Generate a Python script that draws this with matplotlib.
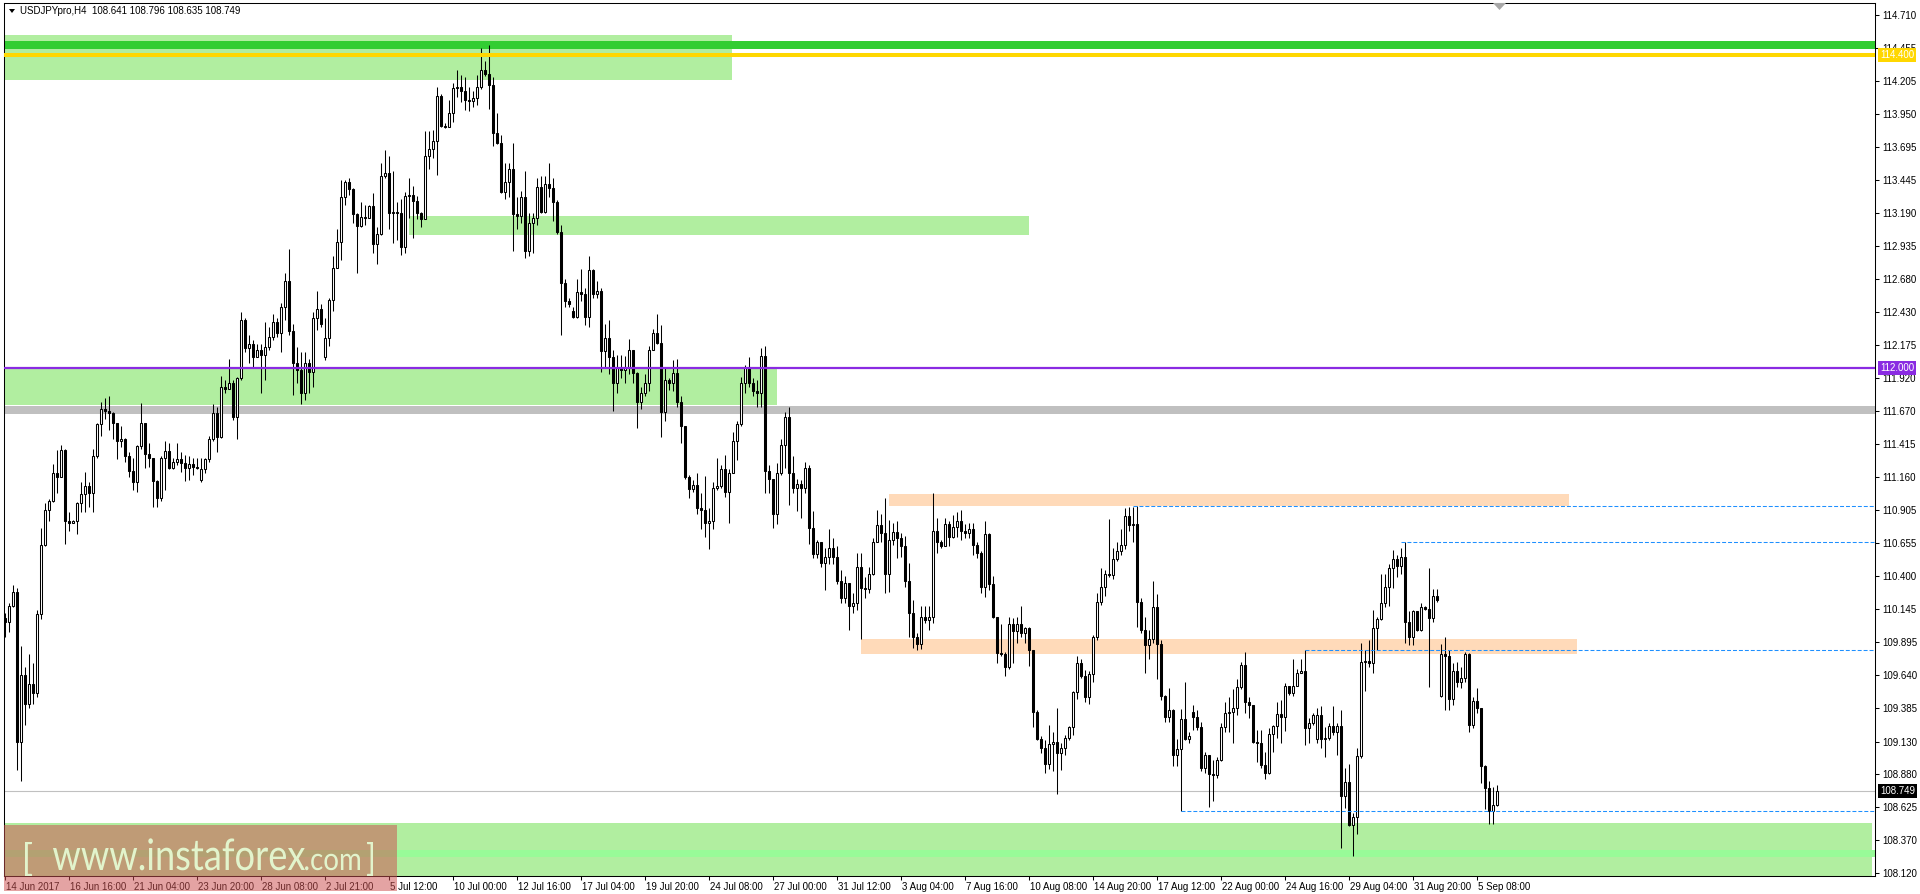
import numpy as np
import matplotlib
matplotlib.use("Agg")
import matplotlib.pyplot as plt
import matplotlib.transforms as mtransforms
from matplotlib.patches import Rectangle, Polygon, PathPatch
from matplotlib.textpath import TextPath
from matplotlib.font_manager import FontProperties
from matplotlib.transforms import Affine2D

plt.rcParams['font.family'] = ['Liberation Sans', 'DejaVu Sans']

# ---- H4 candles, open = previous close except gaps ----
first_open = 110.08
close = [
    110.05, 110.17, 110.28, 109.13, 109.64, 109.42, 109.57, 109.50, 110.11, 110.64,
    110.91, 110.98, 111.19, 111.16, 111.37, 110.82, 110.81, 110.82, 110.96, 111.03,
    111.09, 111.04, 111.32, 111.57, 111.68, 111.67, 111.65, 111.58, 111.44, 111.45,
    111.32, 111.21, 111.12, 111.40, 111.58, 111.34, 111.31, 111.13, 111.00, 111.31,
    111.36, 111.23, 111.28, 111.30, 111.27, 111.23, 111.26, 111.24, 111.23, 111.22,
    111.30, 111.45, 111.65, 111.47, 111.85, 111.84, 111.88, 111.62, 111.92, 112.37,
    112.15, 112.18, 112.08, 112.14, 112.10, 112.16, 112.24, 112.35, 112.27, 112.47,
    112.67, 112.28, 112.04, 111.98, 111.81, 112.04, 111.97, 112.38, 112.45, 112.34,
    112.23, 112.52, 112.77, 112.97, 113.31, 113.43, 113.37, 113.18, 113.09, 113.16,
    113.15, 113.24, 112.95, 113.03, 113.47, 113.50, 113.19, 113.20, 113.19, 112.93,
    113.32, 113.33, 113.28, 113.19, 113.14, 113.63, 113.68, 113.74, 114.09, 113.86,
    113.85, 113.96, 114.15, 114.16, 114.13, 114.06, 114.05, 114.07, 114.16, 114.29,
    114.26, 114.17, 113.80, 113.73, 113.35, 113.43, 113.53, 113.18, 113.17, 113.31,
    112.90, 113.11, 113.15, 113.39, 113.20, 113.41, 113.38, 113.27, 113.04, 112.65,
    112.51, 112.49, 112.39, 112.58, 112.57, 112.39, 112.75, 112.57, 112.59, 112.13,
    112.23, 112.08, 111.88, 112.00, 111.98, 112.01, 112.14, 111.96, 111.74, 111.81,
    111.88, 112.14, 112.27, 112.19, 111.66, 111.91, 111.88, 111.96, 111.74, 111.55,
    111.16, 111.07, 111.10, 110.92, 110.91, 110.81, 110.82, 111.08, 111.09, 111.22,
    111.05, 111.19, 111.44, 111.57, 111.88, 112.01, 111.88, 111.82, 111.81, 112.09,
    111.21, 111.15, 110.88, 111.19, 111.41, 111.62, 111.19, 111.08, 111.11, 111.08,
    111.23, 110.77, 110.57, 110.66, 110.50, 110.55, 110.62, 110.55, 110.36, 110.23,
    110.35, 110.17, 110.19, 110.47, 110.31, 110.30, 110.42, 110.66, 110.79, 110.73,
    110.42, 110.68, 110.74, 110.69, 110.63, 110.36, 110.12, 109.93, 109.88, 110.09,
    110.06, 110.09, 110.75, 110.66, 110.63, 110.80, 110.70, 110.78, 110.82, 110.75,
    110.73, 110.76, 110.64, 110.58, 110.32, 110.72, 110.34, 110.09, 109.81, 109.80,
    109.70, 110.03, 109.98, 110.03, 109.96, 110.00, 109.83, 109.36, 109.15, 109.08,
    108.96, 109.11, 109.13, 109.04, 109.08, 109.16, 109.24, 109.51, 109.73, 109.63,
    109.47, 109.65, 109.93, 110.20, 110.32, 110.42, 110.41, 110.53, 110.59, 110.64,
    110.86, 110.79, 110.80, 110.20, 109.99, 109.87, 109.92, 110.16, 109.88, 109.48,
    109.32, 109.37, 109.03, 109.07, 109.30, 109.15, 109.17, 109.32, 109.24, 108.93,
    109.03, 108.88, 108.87, 108.99, 109.24, 109.35, 109.36, 109.39, 109.55, 109.72,
    109.43, 109.41, 109.13, 109.12, 108.95, 108.89, 109.19, 109.25, 109.34, 109.32,
    109.56, 109.50, 109.56, 109.66, 109.67, 109.23, 109.27, 109.33, 109.33, 109.15,
    109.16, 109.25, 109.20, 109.25, 108.71, 108.82, 108.49, 108.55, 109.02, 109.74,
    109.75, 109.73, 110.00, 110.07, 110.19, 110.32, 110.46, 110.53, 110.48, 110.55,
    110.05, 109.93, 110.13, 109.99, 110.16, 110.15, 110.08, 110.25, 110.22, 109.80,
    109.79, 109.46, 109.67, 109.59, 109.62, 109.80, 109.26, 109.44, 109.39, 108.94,
    108.77, 108.60, 108.641, 108.749,
]
high = [
    110.12, 110.19, 110.33, 110.31, 109.86, 109.70, 109.80, 109.73, 110.14, 110.77,
    110.96, 110.99, 111.26, 111.37, 111.41, 111.38, 110.89, 110.83, 110.97, 111.12,
    111.20, 111.12, 111.38, 111.58, 111.74, 111.77, 111.78, 111.66, 111.58, 111.55,
    111.46, 111.35, 111.31, 111.41, 111.73, 111.58, 111.42, 111.31, 111.14, 111.32,
    111.44, 111.42, 111.31, 111.42, 111.35, 111.33, 111.32, 111.31, 111.31, 111.31,
    111.31, 111.48, 111.72, 111.70, 111.94, 111.91, 112.07, 111.91, 111.93, 112.43,
    112.38, 112.25, 112.21, 112.18, 112.18, 112.35, 112.31, 112.41, 112.38, 112.50,
    112.73, 112.91, 112.34, 112.16, 112.12, 112.12, 112.07, 112.43, 112.59, 112.49,
    112.38, 112.54, 112.86, 113.07, 113.44, 113.44, 113.46, 113.38, 113.19, 113.27,
    113.25, 113.25, 113.34, 113.08, 113.57, 113.67, 113.63, 113.51, 113.27, 113.30,
    113.35, 113.46, 113.40, 113.32, 113.20, 113.82, 113.82, 113.83, 114.16, 114.10,
    113.88, 114.06, 114.19, 114.29, 114.25, 114.23, 114.16, 114.13, 114.25, 114.46,
    114.36, 114.48, 114.23, 113.96, 113.79, 113.57, 113.57, 113.73, 113.31, 113.36,
    113.51, 113.19, 113.19, 113.46, 113.47, 113.47, 113.57, 113.46, 113.29, 113.10,
    112.68, 112.54, 112.47, 112.68, 112.76, 112.61, 112.86, 112.76, 112.67, 112.61,
    112.34, 112.37, 112.14, 112.10, 112.10, 112.09, 112.22, 112.14, 111.97, 111.85,
    111.95, 112.17, 112.30, 112.41, 112.33, 112.01, 111.92, 112.06, 112.07, 111.78,
    111.55, 111.18, 111.14, 111.19, 111.04, 111.17, 110.92, 111.12, 111.31, 111.25,
    111.33, 111.22, 111.51, 111.59, 111.93, 112.02, 112.08, 111.92, 111.91, 112.15,
    112.17, 111.25, 111.15, 111.27, 111.45, 111.66, 111.70, 111.32, 111.15, 111.14,
    111.28, 111.25, 110.90, 110.68, 110.66, 110.62, 110.76, 110.69, 110.63, 110.45,
    110.40, 110.35, 110.27, 110.58, 110.58, 110.39, 110.47, 110.69, 110.91, 110.88,
    111.00, 110.83, 110.81, 110.82, 110.73, 110.71, 110.50, 110.22, 109.96, 110.17,
    110.17, 110.17, 111.04, 110.85, 110.68, 110.85, 110.82, 110.87, 110.89, 110.91,
    110.80, 110.81, 110.81, 110.66, 110.59, 110.82, 110.73, 110.40, 110.09, 110.03,
    109.82, 110.09, 110.08, 110.09, 110.17, 110.01, 110.01, 109.83, 109.37, 109.17,
    109.14, 109.26, 109.20, 109.39, 109.12, 109.18, 109.25, 109.52, 109.79, 109.76,
    109.68, 109.67, 109.95, 110.27, 110.46, 110.45, 110.84, 110.62, 110.66, 110.76,
    110.92, 110.93, 110.93, 110.94, 110.23, 110.09, 109.99, 110.36, 110.26, 109.91,
    109.49, 109.54, 109.38, 109.15, 109.38, 109.59, 109.20, 109.41, 109.37, 109.28,
    109.05, 109.03, 108.99, 109.01, 109.27, 109.43, 109.47, 109.53, 109.61, 109.74,
    109.82, 109.47, 109.41, 109.22, 109.22, 109.05, 109.23, 109.26, 109.43, 109.45,
    109.58, 109.56, 109.76, 109.69, 109.76, 109.83, 109.31, 109.35, 109.39, 109.40,
    109.24, 109.27, 109.40, 109.27, 109.37, 108.93, 108.96, 108.58, 109.08, 109.89,
    109.83, 109.91, 110.14, 110.09, 110.42, 110.42, 110.49, 110.60, 110.56, 110.62,
    110.66, 110.13, 110.14, 110.13, 110.19, 110.17, 110.46, 110.30, 110.30, 109.88,
    109.93, 109.83, 109.73, 109.74, 109.70, 109.82, 109.81, 109.47, 109.54, 109.37,
    108.95, 108.83, 108.78, 108.796,
]
low = [
    109.93, 109.97, 110.16, 108.91, 108.83, 109.26, 109.39, 109.42, 109.47, 110.07,
    110.63, 110.82, 110.97, 111.04, 111.16, 110.65, 110.75, 110.81, 110.72, 110.89,
    110.89, 110.93, 110.89, 111.31, 111.48, 111.61, 111.52, 111.45, 111.30, 111.39,
    111.28, 111.16, 111.06, 111.05, 111.38, 111.23, 111.24, 110.93, 110.93, 110.98,
    111.06, 111.22, 111.22, 111.25, 111.20, 111.13, 111.14, 111.18, 111.22, 111.12,
    111.19, 111.28, 111.44, 111.35, 111.46, 111.81, 111.84, 111.60, 111.45, 111.91,
    112.12, 112.04, 112.01, 112.08, 111.81, 111.91, 112.14, 112.21, 112.24, 112.12,
    112.37, 112.25, 111.79, 111.88, 111.72, 111.75, 111.81, 111.85, 112.29, 112.31,
    112.06, 112.17, 112.44, 112.77, 112.83, 113.25, 113.33, 113.11, 112.73, 113.08,
    113.10, 113.15, 112.88, 112.80, 113.02, 113.46, 113.07, 112.96, 112.98, 112.87,
    112.88, 113.15, 113.00, 113.14, 113.08, 113.14, 113.53, 113.61, 113.48, 113.85,
    113.84, 113.85, 113.89, 114.08, 114.04, 113.98, 113.97, 114.00, 114.02, 114.14,
    114.24, 113.99, 113.70, 113.72, 113.34, 113.30, 113.31, 112.90, 113.07, 113.11,
    112.84, 112.86, 112.88, 113.10, 113.19, 113.19, 113.31, 113.13, 113.03, 112.25,
    112.47, 112.47, 112.38, 112.38, 112.51, 112.33, 112.31, 112.54, 112.54, 111.97,
    112.01, 111.95, 111.67, 111.81, 111.92, 111.88, 111.95, 111.88, 111.54, 111.68,
    111.78, 111.82, 112.14, 112.18, 111.47, 111.59, 111.83, 111.82, 111.70, 111.42,
    111.15, 111.00, 111.05, 110.88, 110.76, 110.70, 110.61, 110.76, 111.06, 111.08,
    111.01, 110.81, 111.19, 111.29, 111.55, 111.81, 111.85, 111.78, 111.70, 111.70,
    111.04, 111.04, 110.77, 110.80, 111.18, 111.23, 110.95, 111.04, 110.90, 110.85,
    111.04, 110.65, 110.54, 110.54, 110.47, 110.29, 110.49, 110.49, 110.34, 110.19,
    110.19, 109.99, 110.12, 110.14, 109.92, 110.23, 110.27, 110.41, 110.66, 110.66,
    110.27, 110.28, 110.64, 110.54, 110.55, 110.32, 109.93, 109.85, 109.83, 109.84,
    110.04, 109.99, 110.04, 110.58, 110.62, 110.63, 110.63, 110.69, 110.70, 110.68,
    110.69, 110.69, 110.56, 110.54, 110.27, 110.24, 110.29, 110.08, 109.73, 109.79,
    109.63, 109.69, 109.73, 109.89, 109.93, 109.89, 109.71, 109.24, 109.14, 109.04,
    108.89, 108.92, 108.90, 108.73, 108.91, 109.03, 109.14, 109.18, 109.46, 109.62,
    109.43, 109.42, 109.59, 109.91, 110.18, 110.25, 110.39, 110.38, 110.52, 110.56,
    110.61, 110.75, 110.66, 110.01, 109.96, 109.66, 109.76, 109.89, 109.61, 109.45,
    109.28, 109.28, 108.94, 108.94, 108.60, 109.14, 109.12, 109.22, 109.22, 108.90,
    108.89, 108.63, 108.67, 108.85, 108.98, 109.20, 109.20, 109.12, 109.33, 109.53,
    109.35, 109.31, 109.12, 108.97, 108.93, 108.84, 108.88, 109.05, 109.16, 109.12,
    109.21, 109.49, 109.48, 109.56, 109.66, 109.10, 109.12, 109.26, 109.12, 109.08,
    109.01, 109.14, 109.18, 109.03, 108.31, 108.62, 108.48, 108.25, 108.42, 109.00,
    109.52, 109.70, 109.66, 109.83, 110.06, 110.16, 110.17, 110.31, 110.39, 110.42,
    109.89, 109.87, 109.87, 109.98, 109.98, 110.14, 109.55, 110.05, 110.20, 109.47,
    109.37, 109.37, 109.41, 109.55, 109.54, 109.59, 109.20, 109.23, 109.35, 108.81,
    108.61, 108.50, 108.50, 108.635,
]
# bars that open away from the previous close (weekend gaps)
gap_opens = {49: 111.14, 80: 112.08, 142: 112.44, 297: 109.36, 328: 109.15, 359: 109.48}

xtick_labels = ["14 Jun 2017", "16 Jun 16:00", "21 Jun 04:00", "23 Jun 20:00", "28 Jun 08:00",
                "2 Jul 21:00", "5 Jul 12:00", "10 Jul 00:00", "12 Jul 16:00", "17 Jul 04:00",
                "19 Jul 20:00", "24 Jul 08:00", "27 Jul 00:00", "31 Jul 12:00", "3 Aug 04:00",
                "7 Aug 16:00", "10 Aug 08:00", "14 Aug 20:00", "17 Aug 12:00", "22 Aug 00:00",
                "24 Aug 16:00", "29 Aug 04:00", "31 Aug 20:00", "5 Sep 08:00"]
xtick_bars = [16 * k for k in range(len(xtick_labels))]

ytick_labels = ["114.710", "114.455", "114.205", "113.950", "113.695", "113.445", "113.190",
                "112.935", "112.680", "112.430", "112.175", "111.920", "111.670", "111.415",
                "111.160", "110.905", "110.655", "110.400", "110.145", "109.895", "109.640",
                "109.385", "109.130", "108.880", "108.625", "108.370", "108.120"]

# zones: (first bar, last bar, top price, bottom price, colour)
zones = [
    (-0.25, 181.75, 114.556, 114.211, '#B1EEA0'),
    (101.0, 256.0, 113.166, 113.020, '#B1EEA0'),
    (-0.25, 193.0, 111.991, 111.714, '#B1EEA0'),
    (221.0, 391.0, 111.031, 110.939, '#FFDAB9'),
    (214.0, 393.0, 109.917, 109.802, '#FFDAB9'),
    (-0.25, 466.75, 108.504, 108.000, '#B1EEA0'),
]
# dotted levels: (start bar, price)
dotted = [(282, 110.939), (349, 110.660), (325, 109.830), (294, 108.596)]

W, H = 1920, 894
fig = plt.figure(figsize=(W / 100, H / 100), dpi=100)
fig.patch.set_facecolor('white')
ax = fig.add_axes([4 / W, 18 / H, 1871 / W, 873.5 / H])
ax.set_xlim(-0.25, 467.5)
ax.set_ylim(108.097, 114.806)

c = np.array(close)
o = np.r_[first_open, c[:-1]]
for k, v in gap_opens.items():
    o[k] = v
hi = np.maximum(np.array(high), np.maximum(o, c))
lo = np.minimum(np.array(low), np.minimum(o, c))
x = np.arange(len(c))

for x0, x1, top, bot, col in zones:
    ax.add_patch(Rectangle((x0, bot), x1 - x0, top - bot, facecolor=col, edgecolor='none', zorder=1))
ax.axhspan(108.24, 108.30, color='#98FB98', lw=0, zorder=1.2)
ax.axhspan(114.449, 114.510, color='#32CD32', lw=0, zorder=1.2)
ax.axhspan(111.645, 111.707, color='#C0C0C0', lw=0, zorder=1.2)
ax.axhline(108.749, color='#C0C0C0', lw=0.8, zorder=1.3)

ax.vlines(x, lo, hi, color='black', linewidth=0.75, zorder=3)
ax.bar(x, c - o, bottom=o, width=0.5, color=np.where(c >= o, 'white', 'black'),
       edgecolor='black', linewidth=0.75, zorder=4)

ax.axhline(114.400, color='#FFD700', lw=2.9, zorder=5)
ax.axhline(112.000, color='#8A2BE2', lw=1.6, zorder=5)
for xb, p in dotted:
    ax.hlines(p, xb, 467.5, colors='#1E90FF', linewidth=0.75, linestyles=(0, (3.8, 1.9)), zorder=5)

for s in ax.spines.values():
    s.set_color('black')
    s.set_linewidth(0.75)

ax.yaxis.tick_right()
ax.set_yticks([float(t) for t in ytick_labels])
ax.set_yticklabels(ytick_labels)
ax.tick_params(axis='y', direction='out', length=2.9, width=0.75, pad=2.2, labelsize=7)
ax.set_xticks(xtick_bars)
ax.set_xticklabels(xtick_labels, ha='left')
ax.tick_params(axis='x', direction='out', length=2.9, width=0.75, pad=1.5, labelsize=7)
shift = mtransforms.ScaledTranslation(1 / 100, 0, fig.dpi_scale_trans)
for lab in ax.get_xticklabels():
    lab.set_transform(lab.get_transform() + shift)

# price tags on the scale
tag = mtransforms.blended_transform_factory(ax.transAxes, ax.transData) + \
    mtransforms.ScaledTranslation(5 / 100, 0, fig.dpi_scale_trans)
for p, txt, col in [(114.400, '114.400', '#FFD700'), (112.000, '112.000', '#8A2BE2'),
                    (108.749, '108.749', 'black')]:
    ax.text(1.0, p, txt, transform=tag, ha='left', va='center', fontsize=7, color='white',
            clip_on=False, zorder=10,
            bbox=dict(boxstyle='square,pad=0.22', fc=col, ec='none'))


def px(xp, yp):
    return (xp / W, 1 - yp / H)


fig.text(20 / W, 1 - 11 / H, "USDJPYpro,H4  108.641 108.796 108.635 108.749", fontsize=7,
         va='center', ha='left')
fig.add_artist(Polygon([px(9, 9), px(15, 9), px(12, 13)], closed=True, fc='black', ec='none',
                       transform=fig.transFigure))
fig.add_artist(Polygon([px(1493, 3), px(1506, 3), px(1499.5, 10)], closed=True, fc='#A8A8A8',
                       ec='none', transform=fig.transFigure, zorder=10))

# watermark
fig.add_artist(Rectangle(px(4, 891), 393 / W, 66 / H, fc='#CC5151', alpha=0.53, ec='none',
                         transform=fig.transFigure, zorder=10))
fp = FontProperties(family=['Lato', 'DejaVu Sans'], weight='normal')
xh_unit = TextPath((0, 0), 'x', size=100, prop=fp).get_extents().height


def wm_text(s, x0, base, width, xh):
    tp = TextPath((0, 0), s, size=100, prop=fp)
    ex = tp.get_extents()
    tr = Affine2D().translate(-ex.x0, 0).scale(width / ex.width, xh / xh_unit).translate(x0, H - base)
    fig.add_artist(PathPatch(tp, transform=tr, fc='#E2F4CC', ec='none', zorder=11))


def wm_bracket(s, x0, top, bottom, width):
    tp = TextPath((0, 0), s, size=100, prop=fp)
    ex = tp.get_extents()
    tr = Affine2D().translate(-ex.x0, -ex.y0).scale(width / ex.width, (bottom - top) / ex.height) \
        .translate(x0, H - bottom)
    fig.add_artist(PathPatch(tp, transform=tr, fc='#E2F4CC', ec='none', zorder=11))


wm_bracket('[', 25, 842, 876, 7)
wm_text('www.instaforex', 53, 870, 252, 22)
wm_text('.com', 305, 870, 55, 16)
wm_bracket(']', 367, 842, 876, 6)

fig.savefig('out.png', dpi=100)
